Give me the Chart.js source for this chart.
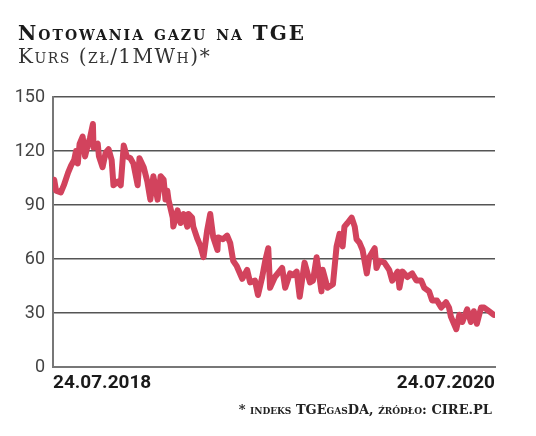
<!DOCTYPE html>
<html lang="pl">
<head>
<meta charset="utf-8">
<title>Notowania gazu na TGE</title>
<script src="https://cdn.jsdelivr.net/npm/chart.js@4/dist/chart.umd.min.js"></script>
<style>
    html, body { margin: 0; padding: 0; background: #fff; }
    #wrap { position: relative; width: 536px; height: 436px; overflow: hidden; }
    #chart { position: absolute; left: 0; top: 0; }
    .head { position: absolute; left: 18px; font-family: "DejaVu Serif", serif; font-variant: small-caps; white-space: nowrap; }
    #title { top: 21px; font-size: 20px; letter-spacing: 2px; font-weight: bold; color: #1a1a1a; }
    #subtitle { top: 44px; font-size: 20px; letter-spacing: 1.5px; color: #333; }
    #source { position: absolute; right: 44px; top: 402px; font-family: "DejaVu Serif", serif; font-variant: small-caps;
        font-size: 13px; font-weight: bold; color: #222; white-space: nowrap; }
</style>
</head>
<body>
<div id="wrap">
    <canvas id="chart" width="536" height="436"></canvas>
    <div id="title" class="head">Notowania gazu na TGE</div>
    <div id="subtitle" class="head">Kurs (zł/1MWh)*</div>
    <div id="source">* indeks TGEgasDA, źródło: CIRE.PL</div>
</div>
<script>
// Dni od 24.07.2018.
var days = [
    2, 5, 13, 18, 25, 30, 35, 38, 41, 44, 49, 53, 58, 61, 66, 67, 74, 76, 82, 87,
    92, 97, 100, 107, 112, 117, 122, 128, 133, 140, 143, 150, 156, 161, 166, 173,
    178, 183, 186, 189, 191, 198, 199, 206, 211, 216, 222, 224, 230, 232, 239, 244, 249, 255, 260, 265,
    272, 273, 281, 288, 293, 298, 304, 313, 321, 326, 334, 339, 346, 351, 356, 359, 367,
    379, 384, 392, 397, 403, 408, 416, 425, 430, 436, 444, 446, 454, 463, 469, 474, 479, 482, 487, 494,
    499, 502, 507, 512, 519, 523, 532, 535, 540, 548, 556, 561, 570, 573, 578, 586, 594, 601, 609, 614,
    622, 627, 635, 642, 650, 655, 658, 667, 672, 677, 685, 691, 696, 701, 708, 713, 721, 729
];

// Kurs w zł/MWh.
var prices = [
    104, 98, 97, 101, 108, 112, 115, 120, 113, 124, 128, 117, 124, 127, 135, 122, 124, 117, 111, 119,
    121, 115, 101, 103, 101, 123, 117, 116, 113, 101, 116, 111, 103, 93, 106, 93,
    106, 104, 93, 98, 93, 83, 78, 87, 80, 85, 78, 85, 83, 78, 71, 67, 61, 76, 85, 72,
    65, 72, 71, 73, 69, 59, 56, 49, 54, 47, 48, 40, 50, 59, 66, 44, 50,
    55, 44, 52, 51, 53, 39, 58, 47, 48, 61, 42, 54, 44, 46, 67, 74, 67, 78, 80, 83,
    78, 71, 69, 65, 52, 61, 66, 55, 59, 58, 54, 48, 53, 44, 53, 50, 52, 48, 48, 44,
    42, 37, 37, 33, 36, 33, 28, 21, 29, 25, 32, 25, 31, 24, 33, 33, 31, 29
];

var xLabels = ['24.07.2018', '24.07.2020'];
var xRange = [0, 731];
var yTicks = [0, 30, 60, 90, 120, 150];

(function () {
    var points = days.map(function (d, i) {
        return { x: d, y: prices[i] };
    });

    var ctx = document.getElementById('chart').getContext('2d');

    new Chart(ctx, {
        type: 'line',
        data: {
            datasets: [
                {
                    data: points,
                    borderColor: '#d2435d',
                    borderWidth: 6,
                    borderJoinStyle: 'round',
                    borderCapStyle: 'round',
                    pointRadius: 0,
                    tension: 0,
                    fill: false,
                },
            ],
        },
        options: {
            responsive: false,
            animation: false,
            layout: {
                padding: { top: 97, right: 41, bottom: 0, left: 0 },
            },
            plugins: {
                legend: { display: false },
                tooltip: { enabled: false },
            },
            scales: {
                x: {
                    type: 'linear',
                    min: xRange[0],
                    max: xRange[1],
                    afterFit: function (scale) { scale.height = 69; },
                    afterBuildTicks: function (scale) {
                        scale.ticks = xRange.map(function (v) { return { value: v }; });
                    },
                    grid: { color: 'rgba(0,0,0,0)', drawTicks: false },
                    border: { display: true, color: '#777', width: 2 },
                    ticks: {
                        align: 'inner',
                        padding: 5,
                        maxRotation: 0,
                        color: '#1a1a1a',
                        font: { family: 'Roboto, sans-serif', size: 19, weight: 'bold' },
                        callback: function (value, index) { return xLabels[index]; },
                    },
                },
                y: {
                    min: 0,
                    max: 150,
                    afterFit: function (scale) { scale.width = 53; },
                    afterBuildTicks: function (scale) {
                        scale.ticks = yTicks.map(function (v) { return { value: v }; });
                    },
                    grid: { color: '#555', lineWidth: 1.5, drawTicks: false },
                    border: { display: true, color: '#777', width: 2 },
                    ticks: {
                        padding: 8,
                        color: '#444',
                        font: { family: 'Roboto, sans-serif', size: 18, weight: 400 },
                    },
                },
            },
        },
    });
})();
</script>
</body>
</html>
